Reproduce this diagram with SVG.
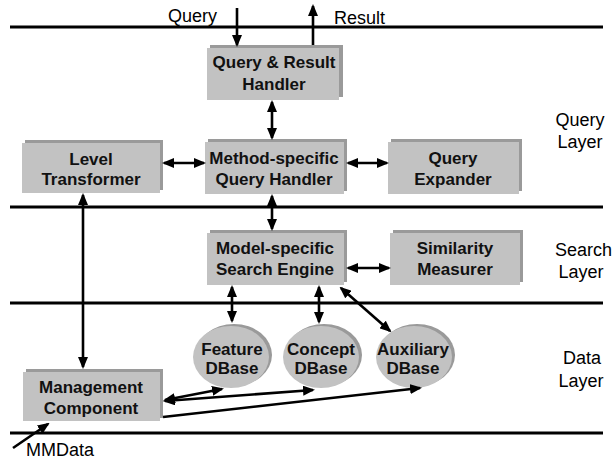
<svg xmlns="http://www.w3.org/2000/svg" width="613" height="460" viewBox="0 0 613 460">
  <defs>
    <style>
      .layer { stroke: #000; stroke-width: 3; }
      .box { fill: #c2c2c2; }
      .shadow { fill: #9a9a9a; }
      .lbl { font-family: "Liberation Sans", Arial, sans-serif; font-weight: bold; font-size: 17px; fill: #111; text-anchor: middle; }
      .txt { font-family: "Liberation Sans", Arial, sans-serif; font-size: 18px; fill: #000; }
      .mid { text-anchor: middle; }
      .conn line { stroke: #000; stroke-width: 2.6; fill: none; }
      .both { marker-start: url(#arrow); marker-end: url(#arrow); }
      .one { marker-end: url(#arrow); }
    </style>
    <marker id="arrow" viewBox="0 0 12 10" refX="10" refY="5" markerWidth="12" markerHeight="10" markerUnits="userSpaceOnUse" orient="auto-start-reverse">
      <path d="M0,0 L12,5 L0,10 z" fill="#000"/>
    </marker>
  </defs>
  <rect width="613" height="460" fill="#fff"/>

  <!-- layer separators -->
  <g id="layers">
    <line class="layer" x1="10" y1="27" x2="603" y2="27"/>
    <line class="layer" x1="10" y1="207" x2="603" y2="207"/>
    <line class="layer" x1="10" y1="303" x2="603" y2="303"/>
    <line class="layer" x1="10" y1="433" x2="603" y2="433"/>
  </g>

  <!-- layer captions -->
  <g id="layer-labels">
    <text class="txt mid" x="580" y="126">Query</text>
    <text class="txt mid" x="580" y="148">Layer</text>
    <text class="txt" x="555" y="256">Search</text>
    <text class="txt mid" x="581" y="278">Layer</text>
    <text class="txt mid" x="582" y="364">Data</text>
    <text class="txt mid" x="581" y="387">Layer</text>
  </g>

  <g id="io-labels">
    <text class="txt" x="168" y="22">Query</text>
    <text class="txt" x="334" y="24">Result</text>
    <text class="txt" x="26" y="456">MMData</text>
  </g>

  <!-- processing components -->
  <g id="query-result-handler">
    <rect class="shadow" x="210" y="45" width="133" height="52"/>
    <rect class="box" x="207" y="48" width="132" height="52"/>
    <text class="lbl" x="274" y="68">Query &amp; Result</text>
    <text class="lbl" x="274" y="90">Handler</text>
  </g>

  <g id="level-transformer">
    <rect class="shadow" x="25" y="140" width="138" height="50"/>
    <rect class="box" x="22" y="143" width="138" height="50"/>
    <text class="lbl" x="91" y="165">Level</text>
    <text class="lbl" x="91" y="185">Transformer</text>
  </g>

  <g id="method-query-handler">
    <rect class="shadow" x="208" y="139" width="139" height="52"/>
    <rect class="box" x="205" y="142" width="139" height="52"/>
    <text class="lbl" x="274" y="164">Method-specific</text>
    <text class="lbl" x="274" y="185">Query Handler</text>
  </g>

  <g id="query-expander">
    <rect class="shadow" x="391" y="139" width="131" height="52"/>
    <rect class="box" x="388" y="142" width="131" height="52"/>
    <text class="lbl" x="453" y="164">Query</text>
    <text class="lbl" x="453" y="185">Expander</text>
  </g>

  <g id="search-engine">
    <rect class="shadow" x="210" y="230" width="137" height="52"/>
    <rect class="box" x="207" y="233" width="137" height="52"/>
    <text class="lbl" x="275" y="254">Model-specific</text>
    <text class="lbl" x="275" y="275">Search Engine</text>
  </g>

  <g id="similarity-measurer">
    <rect class="shadow" x="393" y="230" width="130" height="52"/>
    <rect class="box" x="390" y="233" width="130" height="52"/>
    <text class="lbl" x="455" y="254">Similarity</text>
    <text class="lbl" x="455" y="275">Measurer</text>
  </g>

  <g id="management-component">
    <rect class="shadow" x="26" y="369" width="137" height="49"/>
    <rect class="box" x="23" y="372" width="137" height="49"/>
    <text class="lbl" x="91" y="393">Management</text>
    <text class="lbl" x="91" y="414">Component</text>
  </g>

  <!-- data stores -->
  <g id="feature-dbase">
    <ellipse class="shadow" cx="234" cy="355" rx="38" ry="31"/>
    <ellipse class="box" cx="231" cy="357" rx="38" ry="31"/>
    <text class="lbl" x="232" y="355">Feature</text>
    <text class="lbl" x="232" y="374">DBase</text>
  </g>

  <g id="concept-dbase">
    <ellipse class="shadow" cx="324" cy="355" rx="38" ry="31"/>
    <ellipse class="box" cx="321" cy="357" rx="38" ry="31"/>
    <text class="lbl" x="321" y="355">Concept</text>
    <text class="lbl" x="321" y="374">DBase</text>
  </g>

  <g id="auxiliary-dbase">
    <ellipse class="shadow" cx="417" cy="355" rx="38" ry="31"/>
    <ellipse class="box" cx="414" cy="357" rx="38" ry="31"/>
    <text class="lbl" x="413" y="355">Auxiliary</text>
    <text class="lbl" x="413" y="374">DBase</text>
  </g>

  <!-- connectors -->
  <g id="connectors" class="conn">
    <line class="one" x1="237" y1="8" x2="237" y2="45"/>
    <line class="one" x1="313" y1="45" x2="313" y2="6"/>
    <line class="both" x1="272" y1="102" x2="272" y2="138"/>
    <line class="both" x1="164" y1="163" x2="204" y2="163"/>
    <line class="both" x1="348" y1="163" x2="387" y2="163"/>
    <line class="both" x1="272" y1="196" x2="272" y2="229"/>
    <line class="both" x1="83" y1="195" x2="83" y2="367"/>
    <line class="both" x1="348" y1="268" x2="389" y2="268"/>
    <line class="both" x1="232" y1="287" x2="232" y2="321"/>
    <line class="both" x1="319" y1="287" x2="319" y2="322"/>
    <line class="both" x1="341" y1="288" x2="390" y2="331"/>
    <line class="both" x1="165" y1="400" x2="222" y2="389"/>
    <line class="both" x1="165" y1="401" x2="313" y2="390"/>
    <line class="one" x1="163" y1="417" x2="420" y2="388"/>
    <line class="one" x1="13" y1="448" x2="48" y2="424"/>
  </g>
</svg>
